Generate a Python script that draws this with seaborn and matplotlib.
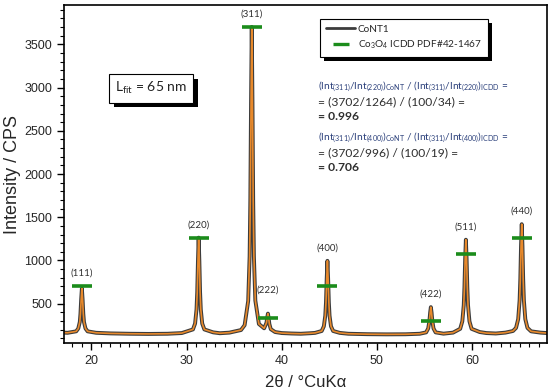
import matplotlib
matplotlib.use("Agg")
import matplotlib.pyplot as plt
import matplotlib.patheffects as pe
from matplotlib.lines import Line2D
from matplotlib.ticker import MultipleLocator
import seaborn as sns

two_theta = [17.1, 17.5, 18.4, 18.62, 18.78, 18.85, 18.925, 19.0, 19.075, 19.15, 19.22, 19.38, 19.6,
             20.5, 22.0, 24.0, 26.0, 28.0, 29.5, 30.67, 30.895, 31.045, 31.12, 31.195, 31.27,
             31.345, 31.42, 31.495, 31.645, 31.87, 32.8, 33.5, 34.5, 35.72, 36.1, 36.475, 36.625,
             36.7, 36.775, 36.85, 36.925, 37.0, 37.075, 37.225, 37.6, 38.15, 38.4, 38.475, 38.55,
             38.625, 38.7, 38.85, 39.3, 40.0, 41.0, 42.0, 43.0, 43.5, 44.2, 44.425, 44.575, 44.65,
             44.725, 44.8, 44.875, 44.95, 45.025, 45.175, 45.4, 46.1, 47.0, 49.0, 51.0, 53.0, 54.5,
             55.17, 55.39, 55.52, 55.595, 55.67, 55.745, 55.82, 55.95, 56.17, 57.0, 58.0, 58.75,
             58.975, 59.125, 59.2, 59.275, 59.35, 59.425, 59.5, 59.575, 59.725, 59.95, 60.8, 61.5,
             62.5, 63.5, 64.3, 64.62, 64.845, 64.995, 65.07, 65.145, 65.22, 65.295, 65.37, 65.445,
             65.595, 65.82, 66.2, 67.2, 67.9]
counts = [165, 163, 180, 213, 288, 382, 548, 676, 548, 382, 288, 213, 180,
          163, 156, 152, 150, 152, 160, 202, 270, 433, 632, 987, 1264,
          987, 632, 433, 270, 202, 168, 158, 165, 195, 251, 532, 1047,
          1687, 2823, 3702, 2823, 1687, 1047, 537, 265, 215, 280, 340, 385,
          332, 265, 205, 172, 160, 155, 152, 158, 162, 184, 238, 361, 514,
          786, 996, 786, 514, 361, 238, 184, 162, 152, 147, 145, 146, 152,
          168, 213, 303, 397, 460, 397, 303, 213, 168, 153, 165, 209,
          296, 482, 693, 1021, 1240, 1021, 693, 482, 296, 209, 172, 160,
          155, 165, 184, 220, 321, 538, 783, 1165, 1420, 1165, 783, 538,
          321, 220, 180, 165, 160]

# Co3O4 reference reflections (ICDD 42-1467), scaled to the (311) peak
hkl = ["(111)", "(220)", "(311)", "(222)", "(400)", "(422)", "(511)", "(440)"]
icdd_pos = [19.00, 31.27, 36.85, 38.55, 44.80, 55.67, 59.35, 65.22]
icdd_counts = [703, 1259, 3702, 333, 703, 296, 1073, 1259]

sns.set_style("ticks")
plt.rcParams["font.family"] = ["Liberation Sans", "DejaVu Sans"]
plt.rcParams["mathtext.fontset"] = "custom"
plt.rcParams["mathtext.rm"] = "Lato"
plt.rcParams["mathtext.it"] = "Lato:italic"
plt.rcParams["mathtext.bf"] = "Lato:bold"

grey = "#3c3c3c"
orange = "#e8892b"
green = "#1b8c1b"
note = "#2f2f2f"

fig, ax = plt.subplots(figsize=(5.5, 3.92), dpi=100)
fig.subplots_adjust(left=0.116, right=0.995, bottom=0.125, top=0.987)

sns.lineplot(x=two_theta, y=counts, ax=ax, color=grey, lw=2.8, legend=False)
sns.lineplot(x=two_theta, y=counts, ax=ax, color=orange, lw=1.2, legend=False)
ax.plot(icdd_pos, icdd_counts, ls="none", marker="_", ms=14, mew=2.6, color=green, zorder=4)

# peak labels above the higher of marker / measured peak
for lab, x, y in zip(hkl, icdd_pos, icdd_counts):
    top = max(c for t, c in zip(two_theta, counts) if abs(t - x) < 0.3)
    ytxt = max(y, top) + 95
    if lab == "(222)":
        ytxt = 600
    ax.text(x, ytxt, lab, ha="center", va="bottom", fontsize=7, color=note, family="Lato")

ax.set_xlim(17.1, 67.9)
ax.set_ylim(45, 3955)
ax.xaxis.set_major_locator(MultipleLocator(10))
ax.xaxis.set_minor_locator(MultipleLocator(1))
ax.yaxis.set_major_locator(MultipleLocator(500))
ax.yaxis.set_minor_locator(MultipleLocator(100))
ax.set_yticks([500, 1000, 1500, 2000, 2500, 3000, 3500])
ax.tick_params(which="major", length=5, width=1, labelsize=9, color="black")
ax.tick_params(which="minor", length=3, width=0.8, color="black")
for s in ax.spines.values():
    s.set_color("black")
    s.set_linewidth(1.2)

ax.set_xlabel("2θ / °CuKα", fontsize=12, labelpad=6)
ax.set_ylabel("Intensity / CPS", fontsize=13, labelpad=2)

handles = [Line2D([], [], color=grey, lw=2),
           Line2D([], [], ls="none", marker="_", ms=11, mew=2.4, color=green)]
leg = ax.legend(handles, ["CoNT1", "Co$_3$O$_4$ ICDD PDF#42-1467"],
                loc="upper left", bbox_to_anchor=(0.52, 0.975), frameon=True,
                fancybox=False, handlelength=2.9, borderpad=0.6,
                labelspacing=0.45, handletextpad=0.25, prop={"family": "Lato", "size": 7.2})
frame = leg.get_frame()
frame.set_edgecolor("black")
frame.set_linewidth(0.8)
frame.set_alpha(1)
frame.set_path_effects([pe.SimplePatchShadow(offset=(3, -3), shadow_rgbFace="black", alpha=1),
                        pe.Normal()])

lfit = ax.text(0.181, 0.754, "L$_{\\rm fit}$ = 65 nm", transform=ax.transAxes,
               ha="center", va="center", fontsize=10, family="Lato", color="#222222",
               bbox=dict(boxstyle="square,pad=0.45", fc="white", ec="black", lw=0.8))
lfit.get_bbox_patch().set_path_effects(
    [pe.SimplePatchShadow(offset=(3.5, -3.5), shadow_rgbFace="black", alpha=1), pe.Normal()])

blue = "#2a3f7a"
lines = [
    ("(Int$_{(311)}$/Int$_{(220)}$)$_{\\rm CoNT}$ / (Int$_{(311)}$/Int$_{(220)}$)$_{\\rm ICDD}$ =", blue, "normal", 7.3),
    ("= (3702/1264) / (100/34) =", note, "normal", 8.7),
    ("= 0.996", note, "bold", 8.7),
    ("(Int$_{(311)}$/Int$_{(400)}$)$_{\\rm CoNT}$ / (Int$_{(311)}$/Int$_{(400)}$)$_{\\rm ICDD}$ =", blue, "normal", 7.3),
    ("= (3702/996) / (100/19) =", note, "normal", 8.7),
    ("= 0.706", note, "bold", 8.7),
]
ys = [0.757, 0.713, 0.669, 0.606, 0.562, 0.518]
for (txt, col, wt, fs), y in zip(lines, ys):
    ax.text(0.526, y, txt, transform=ax.transAxes, ha="left", va="center",
            fontsize=fs, color=col, family="Lato", weight=wt)

plt.savefig("out.png", dpi=100)
